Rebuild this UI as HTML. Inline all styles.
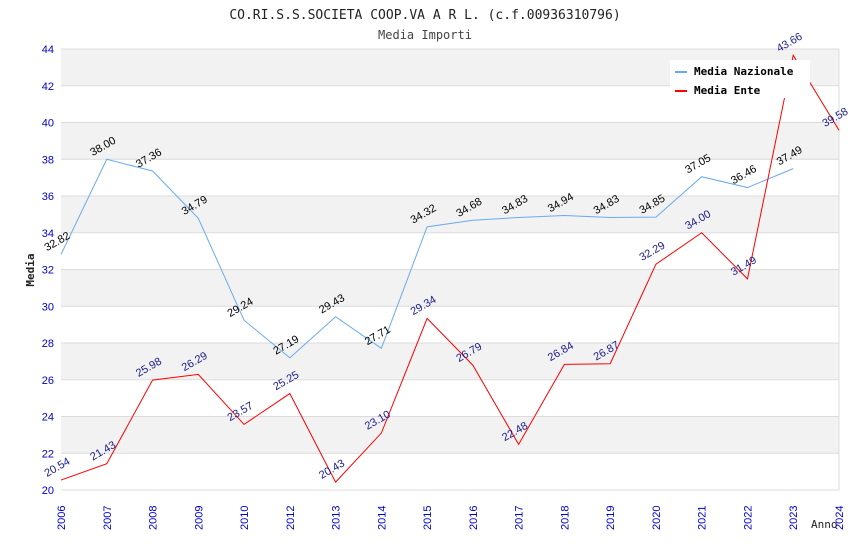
<!DOCTYPE html>
<html><head><meta charset="utf-8"><style>
body{margin:0;background:#fff}
svg text{font-family:"DejaVu Sans Mono","Liberation Mono",monospace}
svg text.s{font-family:"Liberation Sans","DejaVu Sans",sans-serif}
</style></head><body>
<svg id="c" width="850" height="550" xmlns="http://www.w3.org/2000/svg">
<text x="425" y="19" text-anchor="middle" font-size="13" fill="#222">CO.RI.S.S.SOCIETA COOP.VA A R L. (c.f.00936310796)</text>
<text x="425" y="39" text-anchor="middle" font-size="12" fill="#444">Media Importi</text>
<text transform="translate(34,270) rotate(-90)" text-anchor="middle" font-size="11" font-weight="bold" fill="#222">Media</text>
<text x="811" y="528" font-size="11" fill="#222">Anno</text>
<g id="grid"></g><g id="axes"></g><g id="lines"></g><g id="labels"></g>
<g>
<rect x="670" y="60" width="140" height="38" fill="#fff"/>
<line x1="675" y1="72" x2="687" y2="72" stroke="#6aaaee" stroke-width="2"/>
<text x="694" y="75" font-size="11" font-weight="bold" fill="#000">Media Nazionale</text>
<line x1="675" y1="91" x2="687" y2="91" stroke="#f00" stroke-width="2"/>
<text x="694" y="94" font-size="11" font-weight="bold" fill="#000">Media Ente</text>
</g>
</svg>
<script>
const categories=["2006","2007","2008","2009","2010","2012","2013","2014","2015","2016","2017","2018","2019","2020","2021","2022","2023","2024"];
const nazionale=[32.82,38.00,37.36,34.79,29.24,27.19,29.43,27.71,34.32,34.68,34.83,34.94,34.83,34.85,37.05,36.46,37.49];
const ente=[20.54,21.43,25.98,26.29,23.57,25.25,20.43,23.10,29.34,26.79,22.48,26.84,26.87,32.29,34.00,31.49,43.66,39.58];
const yTicks=[20,22,24,26,28,30,32,34,36,38,40,42,44];
const X0=61,X1=839,Y0=490,Y1=49;
const x=i=>X0+i*(X1-X0)/(categories.length-1);
const y=v=>Y0-(v-20)/(44-20)*(Y0-Y1);
const NS="http://www.w3.org/2000/svg";
function mk(t,a,p){const e=document.createElementNS(NS,t);for(const k in a)e.setAttribute(k,a[k]);p.appendChild(e);return e;}
const grid=document.getElementById('grid'),axes=document.getElementById('axes'),lines=document.getElementById('lines'),labels=document.getElementById('labels');
for(let k=0;k<yTicks.length-1;k++){
  if(k%2===1){const r=mk('rect',{x:X0,y:y(yTicks[k+1]),width:X1-X0,height:y(yTicks[k])-y(yTicks[k+1]),fill:'#f2f2f2'},grid);
  
  }
}
yTicks.forEach(v=>{
  const l=mk('line',{x1:X0,x2:X1,y1:y(v),y2:y(v),stroke:'#dcdcdc'},grid);
  
  
  const t=mk('text',{x:X0-7,y:y(v)+4,'text-anchor':'end','font-size':11,fill:'#00c',class:'s'},axes);
  t.textContent=v;
  
  
});
mk('line',{x1:X1,x2:X1,y1:Y1,y2:Y0,stroke:'#dcdcdc'},grid);
categories.forEach((c,i)=>{
  const t=mk('text',{transform:`translate(${x(i)+4},${Y0+40}) rotate(-90)`,'font-size':11,fill:'#00c',class:'s'},axes);
  t.textContent=c;
  
  
});
function series(vals,col,lblCol,name){
  const p=mk('polyline',{points:vals.map((v,i)=>x(i)+','+y(v)).join(' '),fill:'none',stroke:col,'stroke-width':1},lines);
  
  
  vals.forEach((v,i)=>{
    const t=mk('text',{transform:`translate(${x(i)-14},${y(v)-3}) rotate(-30)`,'font-size':11,fill:lblCol,class:'s'},labels);
    t.textContent=v.toFixed(2);
    
    
  });
}
series(nazionale,'#6aaaee','#000','nazionale');
series(ente,'#f00','#1a1a8c','ente');
</script>
</body></html>
